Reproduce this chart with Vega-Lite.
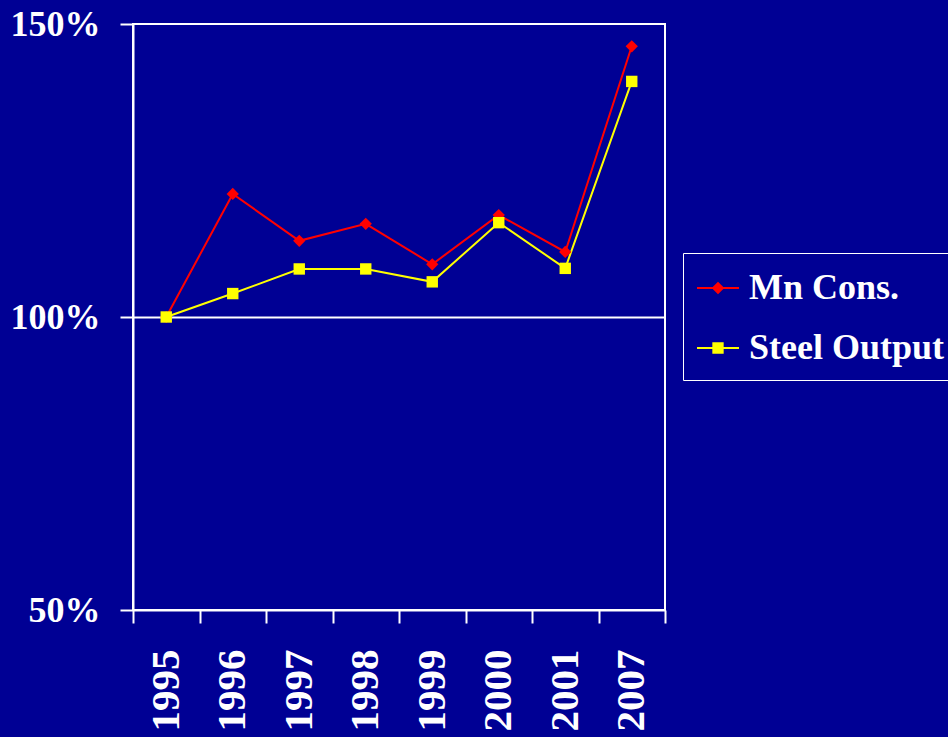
{
  "$schema": "https://vega.github.io/schema/vega-lite/v6.json",
  "autosize": {"type": "none"},
  "padding": {"left": 133, "top": 24, "right": 283, "bottom": 127},
  "width": 532,
  "height": 586,
  "background": "#000094",
  "config": {
    "view": {"stroke": "white", "strokeWidth": 2},
    "font": "Liberation Serif"
  },
  "data": {
    "values": [
      {"year": "1995", "series": "Mn Cons.", "value": 100},
      {"year": "1996", "series": "Mn Cons.", "value": 121.0},
      {"year": "1997", "series": "Mn Cons.", "value": 113.0},
      {"year": "1998", "series": "Mn Cons.", "value": 115.9},
      {"year": "1999", "series": "Mn Cons.", "value": 109.0},
      {"year": "2000", "series": "Mn Cons.", "value": 117.4},
      {"year": "2001", "series": "Mn Cons.", "value": 111.1},
      {"year": "2007", "series": "Mn Cons.", "value": 146.2},
      {"year": "1995", "series": "Steel Output", "value": 100},
      {"year": "1996", "series": "Steel Output", "value": 104.0},
      {"year": "1997", "series": "Steel Output", "value": 108.2},
      {"year": "1998", "series": "Steel Output", "value": 108.2},
      {"year": "1999", "series": "Steel Output", "value": 106.0},
      {"year": "2000", "series": "Steel Output", "value": 116.1},
      {"year": "2001", "series": "Steel Output", "value": 108.3},
      {"year": "2007", "series": "Steel Output", "value": 140.2}
    ]
  },
  "encoding": {
    "x": {
      "field": "year",
      "type": "ordinal",
      "scale": {"type": "band", "paddingInner": 0, "paddingOuter": 0},
      "axis": {
        "title": null,
        "tickBand": "extent",
        "domainColor": "white",
        "domainWidth": 2,
        "tickColor": "white",
        "tickWidth": 2,
        "tickSize": 13,
        "labelAngle": 270,
        "labelAlign": "right",
        "labelBaseline": "middle",
        "labelPadding": 26,
        "labelColor": "white",
        "labelFont": "Liberation Serif",
        "labelFontWeight": "bold",
        "labelFontSize": 41
      }
    },
    "y": {
      "field": "value",
      "type": "quantitative",
      "scale": {"domain": [50, 150], "nice": false, "zero": false},
      "axis": {
        "title": null,
        "values": [50, 100, 150],
        "labelExpr": "datum.value + '%'",
        "grid": true,
        "gridColor": "white",
        "gridWidth": 2,
        "gridOpacity": {"condition": {"test": "datum.value === 100", "value": 1}, "value": 0},
        "domainColor": "white",
        "domainWidth": 2,
        "tickColor": "white",
        "tickWidth": 2,
        "tickSize": 13,
        "labelPadding": 20,
        "labelColor": "white",
        "labelFont": "Liberation Serif",
        "labelFontWeight": "bold",
        "labelFontSize": 36
      }
    }
  },
  "layer": [
    {
      "mark": {"type": "line", "strokeWidth": 2},
      "encoding": {
        "color": {
          "field": "series",
          "type": "nominal",
          "scale": {"domain": ["Mn Cons.", "Steel Output"], "range": ["#ff0000", "#ffff00"]}
        }
      }
    },
    {
      "transform": [{"filter": "datum.series === 'Mn Cons.'"}],
      "mark": {"type": "point", "filled": true, "shape": "diamond", "size": 150, "opacity": 1, "color": "#ff0000"},
      "encoding": {}
    },
    {
      "transform": [{"filter": "datum.series === 'Steel Output'"}],
      "mark": {"type": "point", "filled": true, "shape": "square", "size": 130, "opacity": 1, "color": "#ffff00"},
      "encoding": {}
    },
    {
      "mark": {"type": "point", "filled": true, "size": 0, "opacity": 1},
      "encoding": {
        "color": {
          "field": "series",
          "type": "nominal",
          "scale": {"domain": ["Mn Cons.", "Steel Output"], "range": ["#ff0000", "#ffff00"]},
          "legend": {
            "title": null,
            "orient": "none",
            "legendX": 550,
            "legendY": 229,
            "padding": 14,
            "rowPadding": 21,
            "strokeColor": "white",
            "symbolSize": 1764,
            "symbolOpacity": 1,
            "symbolStrokeWidth": 0,
            "labelOffset": 10,
            "labelColor": "white",
            "labelFont": "Liberation Serif",
            "labelFontWeight": "bold",
            "labelFontSize": 36,
            "labelLimit": 400
          }
        },
        "shape": {
          "field": "series",
          "type": "nominal",
          "scale": {
            "domain": ["Mn Cons.", "Steel Output"],
            "range": [
              "M-1,-0.045H1V0.045H-1Z M0,-0.3L0.3,0L0,0.3L-0.3,0Z",
              "M-1,-0.045H1V0.045H-1Z M-0.27,-0.27H0.27V0.27H-0.27Z"
            ]
          }
        }
      }
    }
  ]
}
